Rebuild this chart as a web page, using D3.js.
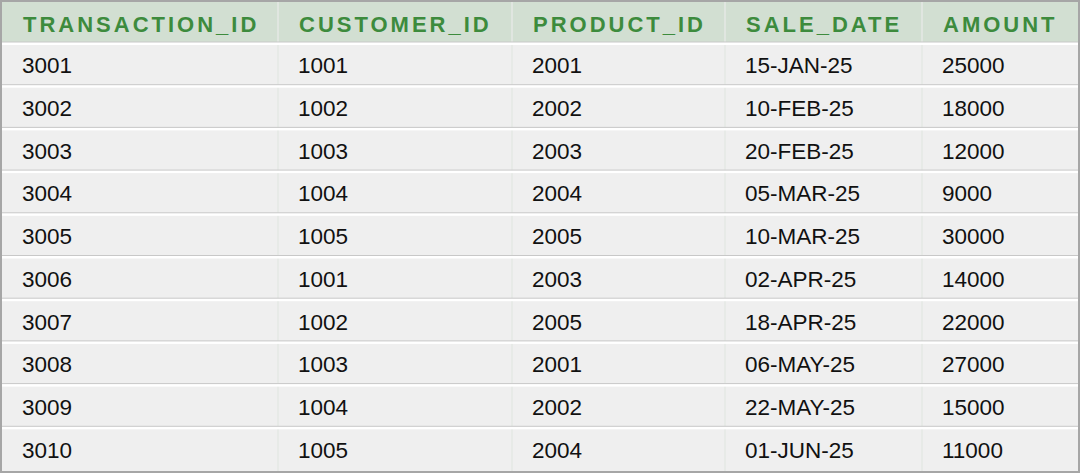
<!DOCTYPE html>
<html><head><meta charset="utf-8">
<script src="https://cdn.jsdelivr.net/npm/d3@7"></script>
<style>body{margin:0;background:#fff;}</style>
</head><body>
<script>
var columns = ["TRANSACTION_ID", "CUSTOMER_ID", "PRODUCT_ID", "SALE_DATE", "AMOUNT"];
var transactionIds = ["3001","3002","3003","3004","3005","3006","3007","3008","3009","3010"];
var customerIds = ["1001","1002","1003","1004","1005","1001","1002","1003","1004","1005"];
var productIds = ["2001","2002","2003","2004","2005","2003","2005","2001","2002","2004"];
var saleDates = ["15-JAN-25","10-FEB-25","20-FEB-25","05-MAR-25","10-MAR-25","02-APR-25","18-APR-25","06-MAY-25","22-MAY-25","01-JUN-25"];
var amounts = ["25000","18000","12000","9000","30000","14000","22000","27000","15000","11000"];

var rows = transactionIds.map(function(d, i){
    return [d, customerIds[i], productIds[i], saleDates[i], amounts[i]];
});

var width = 1080, height = 473, headH = 43;
var colEdges = [2, 278, 512, 725, 922, 1078];

var svg = d3.select("body").append("svg").attr("width", width).attr("height", height);
svg.append("rect").attr("x",1).attr("y",1).attr("width",width-2).attr("height",height-2)
    .attr("fill","#efefef").attr("stroke","#a6a6a6").attr("stroke-width",2);

var y = d3.scaleBand().domain(d3.range(rows.length)).range([headH + 1, height - 2]);

// header
svg.append("rect").attr("x",2).attr("y",2).attr("width",width-4).attr("height",headH-1).attr("fill","#d2dfd2");

// column separators
svg.selectAll(".vline").data(colEdges.slice(1, -1)).enter().append("line")
    .attr("x1", function(d){ return d; }).attr("x2", function(d){ return d; })
    .attr("y1", 2).attr("y2", height - 2)
    .attr("stroke", "#e4e8e4").attr("stroke-width", 1.5);

// row separators
svg.selectAll(".hline").data(d3.range(rows.length)).enter().append("rect")
    .attr("x", 2).attr("width", width - 4)
    .attr("y", function(d){ return y(d) - 2; }).attr("height", 3)
    .attr("fill", "#ffffff");
svg.selectAll(".hline2").data(d3.range(rows.length)).enter().append("line")
    .attr("x1", 2).attr("x2", width - 2)
    .attr("y1", function(d){ return y(d) - 2; }).attr("y2", function(d){ return y(d) - 2; })
    .attr("stroke", "#c8c8c8").attr("stroke-width", 1);

svg.selectAll(".head").data(columns).enter().append("text")
    .attr("x", function(d, i){ return colEdges[i] + 21; })
    .attr("y", 2 + headH / 2 + 8)
    .attr("font-family", "Liberation Sans, Arial, sans-serif")
    .attr("font-size", 22).attr("font-weight", "bold")
    .attr("letter-spacing", 3).attr("fill", "#3d8b3d")
    .text(function(d){ return d; });

rows.forEach(function(r, ri){
    svg.selectAll(".c" + ri).data(r).enter().append("text")
        .attr("x", function(d, i){ return colEdges[i] + 20; })
        .attr("y", y(ri) + y.bandwidth() / 2 + 8)
        .attr("font-family", "Liberation Sans, Arial, sans-serif")
        .attr("font-size", 22.5).attr("fill", "#111")
        .text(function(d){ return d; });
});
</script>
</body></html>
